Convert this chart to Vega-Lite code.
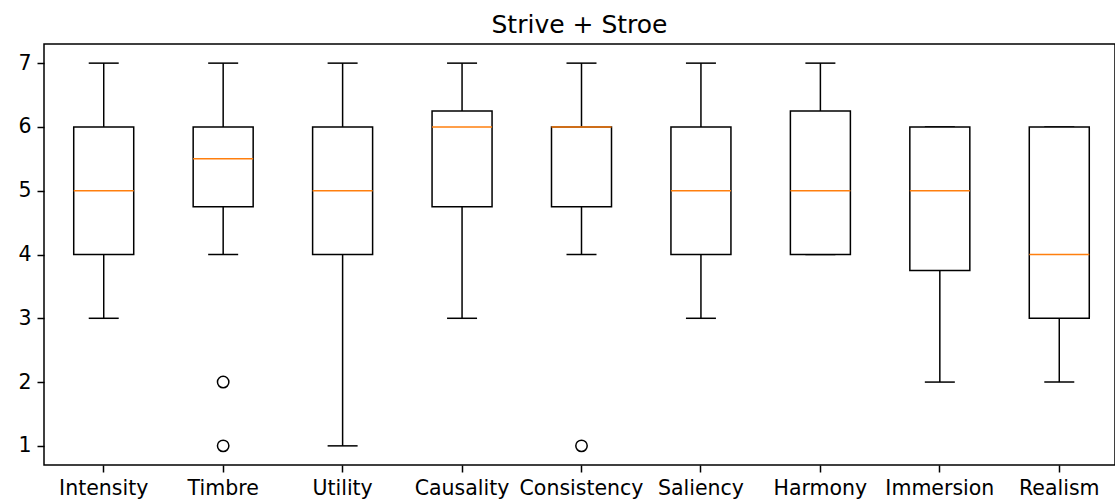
{
  "$schema": "https://vega.github.io/schema/vega-lite/v6.json",
  "autosize": "none",
  "padding": {"left": 44, "top": 44, "right": 0, "bottom": 36},
  "width": 1071,
  "height": 421,
  "background": "white",
  "title": {"text": "Strive + Stroe", "font": "DejaVu Sans", "fontSize": 25, "fontWeight": "normal", "color": "black", "anchor": "middle", "offset": 6},
  "config": {
    "font": "DejaVu Sans",
    "view": {"stroke": "black", "strokeWidth": 1.5},
    "axis": {"labelFont": "DejaVu Sans", "labelFontSize": 20.5, "labelColor": "black", "domainColor": "black", "tickColor": "black", "tickSize": 7, "grid": false, "title": null, "domainWidth": 1.5, "tickWidth": 1.5, "labelPadding": 7}
  },
  "datasets": {
    "stats": [
      {"cat": "Intensity", "low": 3, "q1": 4, "median": 5, "q3": 6, "high": 7},
      {"cat": "Timbre", "low": 4, "q1": 4.75, "median": 5.5, "q3": 6, "high": 7},
      {"cat": "Utility", "low": 1, "q1": 4, "median": 5, "q3": 6, "high": 7},
      {"cat": "Causality", "low": 3, "q1": 4.75, "median": 6, "q3": 6.25, "high": 7},
      {"cat": "Consistency", "low": 4, "q1": 4.75, "median": 6, "q3": 6, "high": 7},
      {"cat": "Saliency", "low": 3, "q1": 4, "median": 5, "q3": 6, "high": 7},
      {"cat": "Harmony", "low": 4, "q1": 4, "median": 5, "q3": 6.25, "high": 7},
      {"cat": "Immersion", "low": 2, "q1": 3.75, "median": 5, "q3": 6, "high": 6},
      {"cat": "Realism", "low": 2, "q1": 3, "median": 4, "q3": 6, "high": 6}
    ],
    "outliers": [
      {"cat": "Timbre", "value": 2},
      {"cat": "Timbre", "value": 1},
      {"cat": "Consistency", "value": 1}
    ]
  },
  "encoding": {
    "x": {
      "field": "cat", "type": "nominal",
      "sort": ["Intensity", "Timbre", "Utility", "Causality", "Consistency", "Saliency", "Harmony", "Immersion", "Realism"],
      "scale": {"domain": ["Intensity", "Timbre", "Utility", "Causality", "Consistency", "Saliency", "Harmony", "Immersion", "Realism"], "paddingInner": 0, "paddingOuter": 0, "range": [0, 1075]},
      "axis": {"labelAngle": 0, "domain": false, "labelFontSize": 20.5, "tickSize": 7, "labelPadding": 6}
    }
  },
  "layer": [
    {
      "data": {"name": "stats"},
      "mark": {"type": "rule", "color": "black", "strokeWidth": 1.5},
      "encoding": {
        "y": {"field": "low", "type": "quantitative", "scale": {"domain": [0.7, 7.3], "nice": false, "zero": false}, "axis": {"values": [1, 2, 3, 4, 5, 6, 7], "format": "d", "domain": false, "labelFontSize": 20.5, "tickSize": 7, "labelPadding": 6}},
        "y2": {"field": "q1"}
      }
    },
    {
      "data": {"name": "stats"},
      "mark": {"type": "rule", "color": "black", "strokeWidth": 1.5},
      "encoding": {
        "y": {"field": "q3", "type": "quantitative"},
        "y2": {"field": "high"}
      }
    },
    {
      "data": {"name": "stats"},
      "mark": {"type": "tick", "color": "black", "size": 30, "thickness": 1.5, "opacity": 1},
      "encoding": {"y": {"field": "low", "type": "quantitative"}}
    },
    {
      "data": {"name": "stats"},
      "mark": {"type": "tick", "color": "black", "size": 30, "thickness": 1.5, "opacity": 1},
      "encoding": {"y": {"field": "high", "type": "quantitative"}}
    },
    {
      "data": {"name": "stats"},
      "mark": {"type": "bar", "fill": "white", "stroke": "black", "strokeWidth": 1.5, "size": 60},
      "encoding": {
        "y": {"field": "q1", "type": "quantitative"},
        "y2": {"field": "q3"}
      }
    },
    {
      "data": {"name": "stats"},
      "mark": {"type": "tick", "color": "#ff7f0e", "size": 60, "thickness": 1.5, "opacity": 1},
      "encoding": {"y": {"field": "median", "type": "quantitative"}}
    },
    {
      "data": {"name": "outliers"},
      "mark": {"type": "point", "shape": "circle", "filled": false, "stroke": "black", "strokeWidth": 1.5, "size": 130, "opacity": 1},
      "encoding": {"y": {"field": "value", "type": "quantitative"}}
    }
  ]
}
